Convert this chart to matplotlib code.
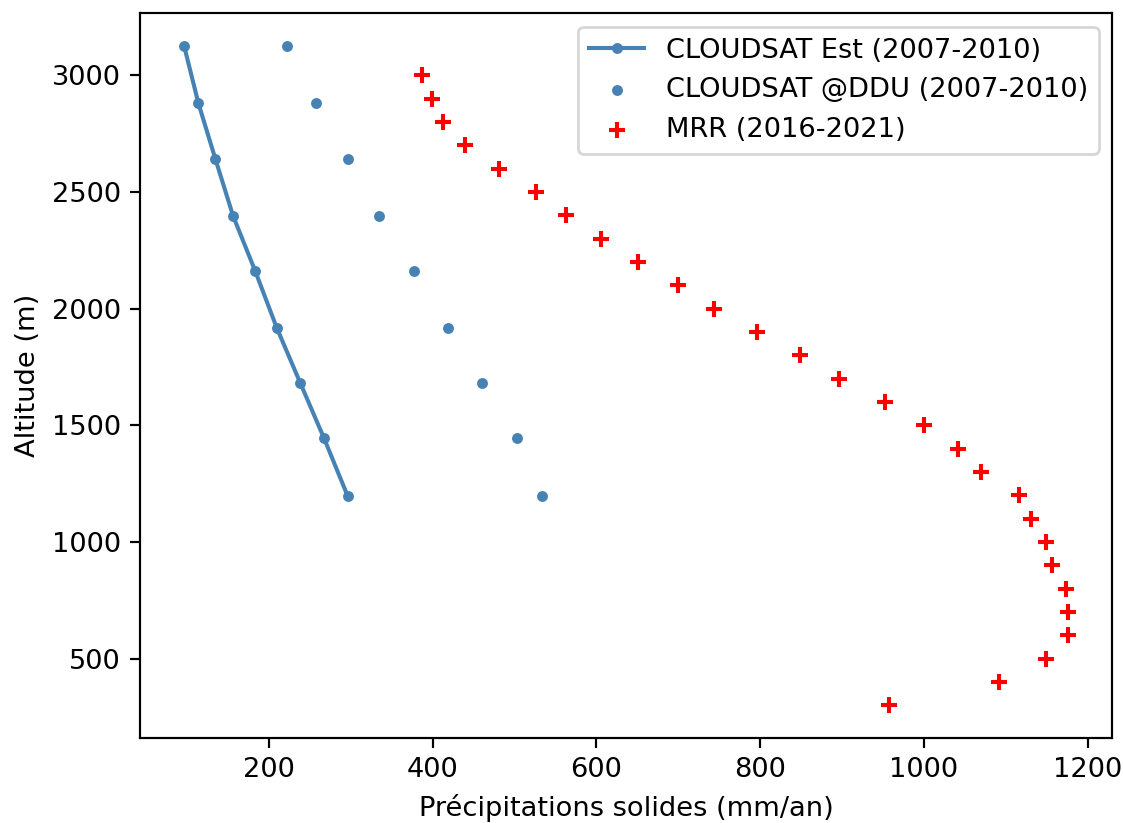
import matplotlib
matplotlib.use('Agg')
import matplotlib.pyplot as plt

# altitudes (m) of the CloudSat levels
alt_cloudsat = [3125, 2880, 2643, 2398, 2162, 1917, 1681, 1444, 1198]
# solid precipitation (mm/an)
precip_est = [96.6, 114, 134.6, 156.3, 183.3, 209.8, 238.5, 267.5, 296.2]
precip_ddu = [222, 257.7, 296.2, 335, 377.9, 418.9, 460.1, 503, 534.2]

alt_mrr = [3000, 2900, 2800, 2700, 2600, 2500, 2400, 2300, 2200, 2100,
           2000, 1900, 1800, 1700, 1600, 1500, 1400, 1300, 1200, 1100,
           1000, 900, 800, 700, 600, 500, 400, 300]
precip_mrr = [387, 398.8, 413.1, 439.7, 480.6, 526.4, 562.8, 605.8, 651.2, 699.9,
              743.2, 796.3, 849.1, 896.9, 952.6, 1000.5, 1041.3, 1070.4, 1116.2, 1130.9,
              1149.7, 1157, 1173.9, 1176.3, 1176.3, 1149.7, 1092, 957.5]

dpi = 196
fig = plt.figure(figsize=(1123 / dpi, 823 / dpi), dpi=dpi)
ax = fig.add_axes([140 / 1123, (823 - 738.3) / 823, (1112.3 - 140) / 1123, (738.3 - 13.3) / 823])

ax.plot(precip_est, alt_cloudsat, '.-', color='steelblue', label='CLOUDSAT Est (2007-2010)')
ax.scatter(precip_ddu, alt_cloudsat, marker='.', color='steelblue', label='CLOUDSAT @DDU (2007-2010)')
ax.scatter(precip_mrr, alt_mrr, marker='+', color='red', label='MRR (2016-2021)')

ax.set_xlabel('Précipitations solides (mm/an)')
ax.set_ylabel('Altitude (m)')
ax.legend(loc='upper right')

fig.savefig('out.png', dpi=dpi)
